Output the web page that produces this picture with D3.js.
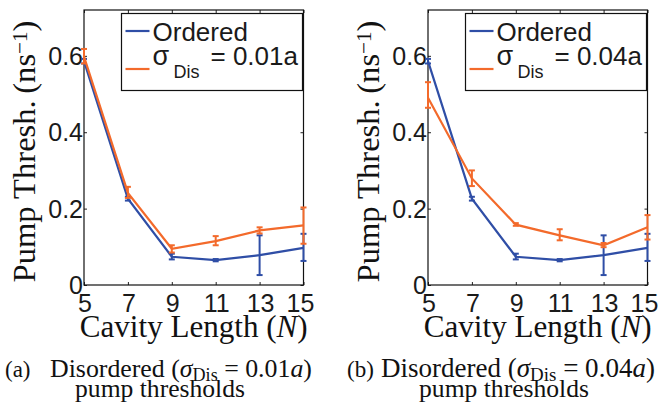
<!DOCTYPE html>
<html>
<head>
<meta charset="utf-8">
<script src="https://cdn.jsdelivr.net/npm/d3@7"></script>
<style>
    body { margin: 0; background: #fff; }
    svg { display: block; }
</style>
</head>
<body>
<div id="chart"></div>
<script>
// cavity length N on the x axis
const cavityLengths = [5, 7, 9, 11, 13, 15];
const xTicks = [5, 7, 9, 11, 13, 15];
const yTicks = [0, 0.2, 0.4, 0.6];
const yTickLabels = ["0", "0.2", "0.4", "0.6"];

// ordered cavity (same in both panels)
const orderedMean = [0.586, 0.226, 0.074, 0.065, 0.078, 0.097];
const orderedLow  = [0.580, 0.221, 0.067, 0.062, 0.026, 0.063];
const orderedHigh = [0.592, 0.231, 0.082, 0.068, 0.130, 0.134];

// disordered, sigma = 0.01a
const dis01Mean = [0.598, 0.241, 0.095, 0.115, 0.143, 0.156];
const dis01Low  = [0.580, 0.228, 0.085, 0.104, 0.135, 0.108];
const dis01High = [0.618, 0.257, 0.104, 0.128, 0.151, 0.203];

// disordered, sigma = 0.04a
const dis04Mean = [0.490, 0.279, 0.158, 0.130, 0.104, 0.151];
const dis04Low  = [0.464, 0.259, 0.155, 0.117, 0.099, 0.119];
const dis04High = [0.531, 0.300, 0.162, 0.146, 0.110, 0.183];

const panelLabels = ["(a)", "(b)"];
const sigmaValues = ["0.01", "0.04"];

const blue = "#2f4ea6";
const orange = "#f36a2b";
const sansFont = "'Liberation Sans', Arial, sans-serif";
const serifFont = "'Liberation Serif', 'Times New Roman', serif";

const svg = d3.select("#chart").append("svg")
    .attr("width", 660)
    .attr("height", 405)
;

function makeSeries(mean, low, high){
    return cavityLengths.map((n, i) => ({n: n, v: mean[i], lo: low[i], hi: high[i]}));
}

// scale the font of a text so it spans the wanted width (the reference uses a wide latex font)
function fitWidth(textSel, target){
    const w = textSel.node().getComputedTextLength();
    const size = parseFloat(textSel.style("font-size"));
    textSel.style("font-size", (size * target / w) + "px");
}

function drawPanel(offsetX, disSeries, panelIndex, captionPos){
    const margin = {top: 10, left: 84};
    const width = 219.5;
    const height = 275;

    const g = svg.append("g")
        .attr("transform", "translate(" + (offsetX + margin.left) + "," + margin.top + ")")
    ;

    const xScale = d3.scaleLinear().domain([5, 15]).range([0, width]);
    const yScale = d3.scaleLinear().domain([0, 0.72]).range([height, 0]);

    // box with inward ticks on all four sides (matlab style)
    const tickLen = 3;
    g.append("g")
        .attr("transform", "translate(0," + height + ")")
        .call(d3.axisTop(xScale).tickValues(xTicks).tickSize(tickLen).tickFormat(""))
        .call(a => a.select(".domain").remove())
    ;
    g.append("g")
        .call(d3.axisBottom(xScale).tickValues(xTicks).tickSize(tickLen).tickFormat(""))
        .call(a => a.select(".domain").remove())
    ;
    g.append("g")
        .call(d3.axisRight(yScale).tickValues(yTicks).tickSize(tickLen).tickFormat(""))
        .call(a => a.select(".domain").remove())
    ;
    g.append("g")
        .attr("transform", "translate(" + width + ",0)")
        .call(d3.axisLeft(yScale).tickValues(yTicks).tickSize(tickLen).tickFormat(""))
        .call(a => a.select(".domain").remove())
    ;
    g.selectAll(".tick line").attr("stroke", "#222");

    g.append("rect")
        .attr("width", width)
        .attr("height", height)
        .attr("fill", "none")
        .attr("stroke", "#111")
        .attr("stroke-width", 1.2)
    ;

    // tick labels
    g.selectAll(".xTickLabel")
        .data(xTicks)
        .join("text")
        .attr("class", "xTickLabel")
        .attr("x", d => xScale(d) + (d === 15 ? -3 : 1))
        .attr("y", height + 26.5)
        .attr("text-anchor", "middle")
        .style("font-family", sansFont)
        .style("font-size", "25px")
        .attr("fill", "#1a1a1a")
        .text(d => d)
    ;
    g.selectAll(".yTickLabel")
        .data(yTicks)
        .join("text")
        .attr("class", "yTickLabel")
        .attr("x", -1)
        .attr("y", d => yScale(d) + 9)
        .attr("text-anchor", "end")
        .style("font-family", sansFont)
        .style("font-size", "25px")
        .attr("fill", "#1a1a1a")
        .text((d, i) => yTickLabels[i])
    ;

    // axis titles
    const xTitle = g.append("text")
        .attr("x", width / 2)
        .attr("y", height + 52)
        .attr("text-anchor", "middle")
        .style("font-family", serifFont)
        .style("font-size", "28px")
        .attr("fill", "#111")
        .call(t => {
            t.append("tspan").text("Cavity Length (");
            t.append("tspan").style("font-style", "italic").text("N");
            t.append("tspan").text(")");
        })
    ;
    fitWidth(xTitle, 228);

    const yTitle = g.append("text")
        .attr("transform", "translate(" + (-49) + "," + (height / 2 + 4) + ") rotate(-90)")
        .attr("text-anchor", "middle")
        .style("font-family", serifFont)
        .style("font-size", "28px")
        .attr("fill", "#111")
        .call(t => {
            t.append("tspan").text("Pump Thresh.\u2009(ns");
            t.append("tspan").attr("dy", "-0.4em").style("font-size", "0.65em").text("\u22121");
            t.append("tspan").attr("dy", "0.26em").text(")");
        })
    ;
    fitWidth(yTitle, 262);

    const line = d3.line()
        .x(d => xScale(d.n))
        .y(d => yScale(d.v))
    ;
    const seriesList = [
        {data: makeSeries(orderedMean, orderedLow, orderedHigh), color: blue},
        {data: disSeries, color: orange}
    ];
    const capHalf = 3;
    seriesList.forEach(s => {
        g.append("path")
            .datum(s.data)
            .attr("d", line)
            .attr("fill", "none")
            .attr("stroke", s.color)
            .attr("stroke-width", 2.2)
        ;
        const bars = g.append("g")
            .selectAll("g")
            .data(s.data)
            .join("g")
            .attr("stroke", s.color)
            .attr("stroke-width", 2)
        ;
        bars.append("line")
            .attr("x1", d => xScale(d.n))
            .attr("x2", d => xScale(d.n))
            .attr("y1", d => yScale(d.lo))
            .attr("y2", d => yScale(d.hi))
        ;
        bars.append("line")
            .attr("x1", d => xScale(d.n) - capHalf)
            .attr("x2", d => xScale(d.n) + capHalf)
            .attr("y1", d => yScale(d.lo))
            .attr("y2", d => yScale(d.lo))
        ;
        bars.append("line")
            .attr("x1", d => xScale(d.n) - capHalf)
            .attr("x2", d => xScale(d.n) + capHalf)
            .attr("y1", d => yScale(d.hi))
            .attr("y2", d => yScale(d.hi))
        ;
    });

    // legend
    const legend = g.append("g")
        .attr("transform", "translate(" + (width - 182) + ",3.5)")
    ;
    legend.append("rect")
        .attr("width", 181)
        .attr("height", 77)
        .attr("fill", "#fff")
        .attr("stroke", "#111")
        .attr("stroke-width", 1.2)
    ;
    const legendRows = [
        {color: blue, y: 17.5},
        {color: orange, y: 55.5}
    ];
    legend.selectAll(".legendLine")
        .data(legendRows)
        .join("line")
        .attr("class", "legendLine")
        .attr("x1", 4)
        .attr("x2", 28)
        .attr("y1", d => d.y)
        .attr("y2", d => d.y)
        .attr("stroke", d => d.color)
        .attr("stroke-width", 2.2)
    ;
    legend.append("text")
        .attr("x", 31)
        .attr("y", 27.5)
        .style("font-family", sansFont)
        .style("font-size", "26px")
        .attr("fill", "#1a1a1a")
        .text("Ordered")
    ;
    legend.append("text")
        .attr("x", 31)
        .attr("y", 51.5)
        .style("font-family", sansFont)
        .style("font-size", "27px")
        .attr("fill", "#1a1a1a")
        .text("\u03c3")
    ;
    legend.append("text")
        .attr("x", 52)
        .attr("y", 64.5)
        .style("font-family", sansFont)
        .style("font-size", "18px")
        .attr("fill", "#1a1a1a")
        .text("Dis")
    ;
    legend.append("text")
        .attr("x", 89)
        .attr("y", 51.5)
        .style("font-family", sansFont)
        .style("font-size", "26px")
        .attr("fill", "#1a1a1a")
        .text("= " + sigmaValues[panelIndex] + "a")
    ;

    // caption below the panel
    svg.append("text")
        .attr("x", captionPos.labelX)
        .attr("y", 377)
        .style("font-family", serifFont)
        .style("font-size", "23px")
        .attr("fill", "#111")
        .text(panelLabels[panelIndex])
    ;
    const captionLine = svg.append("text")
        .attr("x", captionPos.textX)
        .attr("y", 377)
        .style("font-family", serifFont)
        .style("font-size", "23px")
        .attr("fill", "#111")
        .call(t => {
            t.append("tspan").text("Disordered (");
            t.append("tspan").style("font-style", "italic").text("\u03c3");
            t.append("tspan").attr("dy", "0.2em").style("font-size", "0.7em").text("Dis");
            t.append("tspan").attr("dy", "-0.14em").text(" = " + sigmaValues[panelIndex]);
            t.append("tspan").style("font-style", "italic").text("a");
            t.append("tspan").text(")");
        })
    ;
    fitWidth(captionLine, captionPos.textWidth);

    const captionLine2 = svg.append("text")
        .attr("x", captionPos.line2Center)
        .attr("y", 397)
        .attr("text-anchor", "middle")
        .style("font-family", serifFont)
        .style("font-size", "23px")
        .attr("fill", "#111")
        .text("pump thresholds")
    ;
    fitWidth(captionLine2, 170);
}

drawPanel(0, makeSeries(dis01Mean, dis01Low, dis01High), 0,
    {labelX: 5, textX: 50, textWidth: 262, line2Center: 160});
drawPanel(344, makeSeries(dis04Mean, dis04Low, dis04High), 1,
    {labelX: 347, textX: 381, textWidth: 274, line2Center: 504});
</script>
</body>
</html>
